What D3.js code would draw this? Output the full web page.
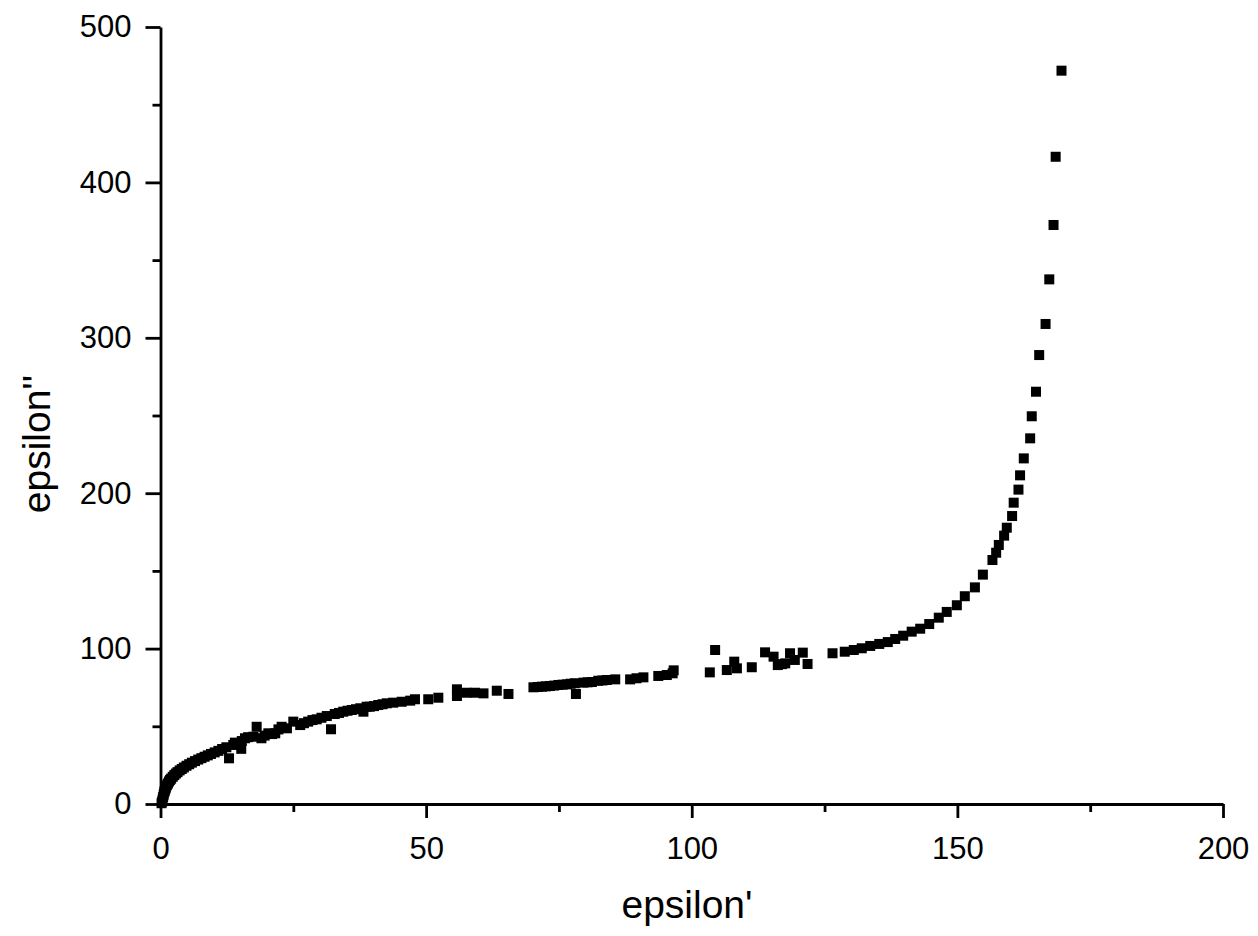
<!DOCTYPE html>
<html>
<head>
<meta charset="utf-8">
<script src="https://cdn.jsdelivr.net/npm/d3@7"></script>
<style>
  html, body { margin: 0; padding: 0; background: #fff; }
  svg { display: block; font-family: "Liberation Sans", Arial, sans-serif; }
</style>
</head>
<body>
<svg id="chart"></svg>
<script>
// epsilon' / epsilon'' scatter
const epsReal = [
  0.2, 0.3, 0.4, 0.5, 0.6, 0.7, 0.8, 0.9, 1.0, 1.2, 1.4, 1.6, 1.8, 2.0, 2.3, 2.6, 2.9, 3.2, 3.6, 4.0,
  4.4, 4.9, 5.4, 5.9, 6.5, 7.1, 7.7, 8.3, 8.9, 9.5, 10.2, 10.9, 11.6, 12.4, 12.9, 13.7, 14.0, 15.2, 15.3, 15.9,
  16.5, 17.5, 18.1, 19.0, 19.6, 20.3, 21.0, 21.6, 22.2, 22.8, 23.8, 25.0, 26.3, 27.0, 27.8, 28.6, 29.4, 30.3, 31.3, 32.1,
  32.8, 33.6, 34.4, 35.2, 36.0, 36.8, 37.6, 38.2, 38.8, 39.4, 40.2, 41.0, 41.8, 42.6, 43.8, 45.4, 47.0, 47.9, 50.4, 52.3,
  55.8, 55.8, 57.6, 59.2, 60.8, 63.3, 65.5, 70.2, 71.0, 71.8, 72.5, 73.3, 74.1, 74.9, 75.7, 76.5, 77.2, 78.0, 78.2, 79.6,
  80.4, 81.2, 82.4, 83.2, 84.0, 85.6, 88.4, 89.6, 90.9, 93.7, 95.3, 96.4, 96.6, 103.4, 104.4, 106.6, 108.0, 108.5, 111.3, 113.8,
  115.4, 116.2, 117.0, 117.6, 118.5, 119.4, 120.9, 121.8, 126.5, 128.8, 130.5, 132.0, 133.6, 135.3, 136.9, 138.3, 139.8, 141.4, 143.0, 144.7,
  146.5, 148.0, 149.9, 151.4, 153.3, 154.8, 156.6, 157.3, 157.8, 158.8, 159.3, 160.3, 160.6, 161.5, 161.8, 162.5, 163.7, 164.0, 164.8, 165.4,
  166.6, 167.3, 168.1, 168.5, 169.6
];
const epsImag = [
  0.5, 1.5, 3.0, 4.5, 6.0, 7.5, 8.5, 9.5, 10.5, 12.0, 13.2, 14.5, 15.5, 16.3, 17.5, 18.6, 19.6, 20.5, 21.6, 22.5,
  23.5, 24.6, 25.6, 26.6, 27.6, 28.6, 29.5, 30.4, 31.3, 32.2, 33.2, 34.2, 35.4, 36.5, 29.4, 38.0, 39.5, 35.5, 40.5, 42.3,
  43.0, 43.3, 49.7, 42.3, 44.0, 45.5, 45.0, 45.5, 48.0, 49.7, 48.7, 53.0, 50.8, 52.0, 53.0, 54.0, 54.5, 55.5, 56.6, 48.1,
  57.9, 58.6, 59.4, 60.0, 60.5, 61.0, 61.6, 59.4, 62.6, 62.6, 63.0, 63.7, 64.2, 64.8, 65.2, 65.8, 66.5, 67.4, 67.4, 68.4,
  69.5, 73.8, 71.6, 71.6, 71.2, 72.9, 70.8, 75.1, 75.3, 75.5, 75.7, 75.9, 76.2, 76.6, 76.8, 77.0, 77.4, 77.7, 70.8, 78.1,
  78.3, 78.5, 79.3, 79.5, 79.8, 80.2, 80.2, 80.9, 81.5, 82.4, 83.0, 84.1, 86.0, 84.7, 99.1, 86.2, 91.6, 87.3, 88.0, 97.6,
  94.8, 89.4, 90.0, 90.5, 97.0, 92.7, 97.4, 90.1, 97.0, 98.0, 99.1, 100.2, 101.7, 103.0, 104.2, 106.2, 108.3, 110.9, 112.8, 115.8,
  119.9, 123.6, 127.9, 133.7, 139.4, 147.6, 157.0, 161.7, 166.7, 172.7, 177.8, 185.3, 193.9, 202.3, 211.5, 222.4, 235.3, 249.5, 265.3, 288.9,
  308.9, 337.6, 372.6, 416.5, 471.9
];

const xMajor = [0, 50, 100, 150, 200];
const xMinor = [25, 75, 125, 175];
const yMajor = [0, 100, 200, 300, 400, 500];
const yMinor = [50, 150, 250, 350, 450];
const xTitle = "epsilon'";
const yTitle = "epsilon''";

const W = 1258, H = 936;
const margin = { left: 160.5, right: W - 1223, top: 27, bottom: H - 804 };

const svg = d3.select("#chart").attr("width", W).attr("height", H);

const x = d3.scaleLinear().domain([0, 200]).range([margin.left, W - margin.right]);
const y = d3.scaleLinear().domain([0, 500]).range([H - margin.bottom, margin.top]);

const axisW = 2.8;

// minor ticks first, no labels
svg.append("g")
  .attr("transform", `translate(0,${y(0)})`)
  .call(d3.axisBottom(x).tickValues(xMinor).tickSize(8).tickFormat(""))
  .call(g => g.select(".domain").remove());
svg.append("g")
  .attr("transform", `translate(${x(0)},0)`)
  .call(d3.axisLeft(y).tickValues(yMinor).tickSize(8).tickFormat(""))
  .call(g => g.select(".domain").remove());

// major ticks + labels
const xAxis = svg.append("g")
  .attr("transform", `translate(0,${y(0)})`)
  .call(d3.axisBottom(x).tickValues(xMajor).tickSize(14).tickSizeOuter(0).tickPadding(19).tickFormat(d3.format("d")));
const yAxis = svg.append("g")
  .attr("transform", `translate(${x(0)},0)`)
  .call(d3.axisLeft(y).tickValues(yMajor).tickSize(15).tickSizeOuter(0).tickPadding(14).tickFormat(d3.format("d")));

svg.selectAll(".tick line").attr("stroke", "#000").attr("stroke-width", axisW);
svg.selectAll(".domain").attr("stroke", "#000").attr("stroke-width", axisW);
svg.selectAll(".tick text")
  .attr("fill", "#000")
  .style("font-size", "31px")
  .style("font-family", "'Liberation Sans', Arial, sans-serif");

// markers
const pts = epsReal.map((v, i) => [v, epsImag[i]]);
const s = 10;
svg.append("g")
  .selectAll("rect")
  .data(pts)
  .join("rect")
  .attr("x", d => x(d[0]) - s / 2)
  .attr("y", d => y(d[1]) - s / 2)
  .attr("width", s)
  .attr("height", s)
  .attr("fill", "#000");

// titles
svg.append("text")
  .attr("x", 687)
  .attr("y", 918)
  .attr("text-anchor", "middle")
  .style("font-size", "39px")
  .text(xTitle);

svg.append("text")
  .attr("transform", `translate(${50},${444}) rotate(-90)`)
  .attr("text-anchor", "middle")
  .style("font-size", "39px")
  .text(yTitle);
</script>
</body>
</html>
